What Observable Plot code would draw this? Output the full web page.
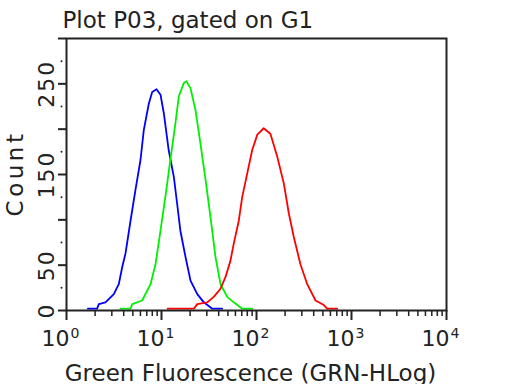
<!DOCTYPE html>
<html><head><meta charset="utf-8">
<script src="https://cdn.jsdelivr.net/npm/d3@7"></script>
<script src="https://cdn.jsdelivr.net/npm/@observablehq/plot@0.6"></script>
<style>html,body{margin:0;padding:0;background:#fff} svg{display:block}</style>
</head><body><div id="chart"></div>
<script>
const titleText = "Plot P03, gated on G1";
const xLabel = "Green Fluorescence (GRN-HLog)";
const yLabel = "Count";

const blueX = [1.68,2.10,2.19,2.57,3.15,3.55,3.86,4.18,4.72,5.32,6.01,6.51,7.35,7.98,8.86,9.76,10.6,11.9,13.5,14.6,15.8,17.9,20.2,23.8,27.9,34.2,43.5];
const blueCount = [2,2,7,9,18,29,48,63,99,133,166,199,228,241,244,238,217,177,147,118,88,59,33,18,9,2,2];

const greenX = [3.70,4.72,4.92,6.26,7.66,8.65,9.76,11.0,12.4,14.0,15.2,17.2,18.3,20.2,22.8,25.7,29.1,32.8,37.0,41.8,49.2,57.7,70.7,90.1];
const greenCount = [2,2,7,11,29,51,88,126,166,206,236,251,253,245,221,184,144,103,59,29,15,9,2,2];

const redX = [11.6,21.9,23.8,30.3,35.5,41.8,47.2,53.2,57.7,65.1,70.7,79.8,90.1,102,119,140,165,194,219,247,290,342,418,511,554,707];
const redCount = [2,2,7,9,15,24,37,55,74,99,125,151,177,194,201,195,170,140,107,81,51,29,11,6,2,2];

const seriesNames = ["S1","S2","S3"];
const seriesColors = ["#0000ff","#00f000","#ff0000"];

const xMajor = [1,10,100,1000,10000];
const xExp = ["0","1","2","3","4"];
const xMinor = [2,3,4,5,6,7,8,9,20,30,40,50,60,70,80,90,200,300,400,500,600,700,800,900,2000,3000,4000,5000,6000,7000,8000,9000];
const yMajor = [0,50,100,150,200,250,300];
const yLabels = [0,50,150,250];
const yMinor = [25,75,125,175,225,275];

const rows = [];
blueX.forEach((x,i)=>rows.push({x, count: blueCount[i], series: seriesNames[0]}));
greenX.forEach((x,i)=>rows.push({x, count: greenCount[i], series: seriesNames[1]}));
redX.forEach((x,i)=>rows.push({x, count: redCount[i], series: seriesNames[2]}));

const ink = "#222";
const chart = Plot.plot({
  width: 512, height: 384,
  marginLeft: 66, marginRight: 66, marginTop: 38, marginBottom: 74,
  style: {fontFamily: "DejaVu Sans", background: "#fff", color: ink},
  x: {type: "log", domain: [1, 10000]},
  y: {domain: [0, 300]},
  color: {type: "ordinal", domain: seriesNames, range: seriesColors},
  marks: [
    Plot.line(rows, {x: "x", y: "count", z: "series", stroke: "series", strokeWidth: 1.8}),
    Plot.frame({stroke: ink, strokeWidth: 2}),
    Plot.axisX({ticks: xMajor, tickSize: 10, tickFormat: () => "", label: null, stroke: ink, strokeWidth: 2}),
    Plot.axisX({ticks: xMinor, tickSize: 6, tickFormat: () => "", label: null, stroke: ink, strokeWidth: 1.5}),
    Plot.axisY({ticks: yMajor, tickSize: 8, tickFormat: () => "", label: null, stroke: ink, strokeWidth: 2}),
    Plot.dot(yMinor, {y: d => d, frameAnchor: "left", dx: -5, r: 1, fill: ink}),
    Plot.text(yLabels, {y: d => d, text: d => String(d), frameAnchor: "left", dx: -13, rotate: -90, textAnchor: "middle", lineAnchor: "bottom", fontSize: 22, fill: ink}),
    Plot.text(xMajor, {x: d => d, text: () => "10", frameAnchor: "bottom", dx: 3, dy: 35, textAnchor: "end", lineAnchor: "bottom", fontSize: 22, fill: ink}),
    Plot.text(xMajor.map((d,i) => ({v: d, e: xExp[i]})), {x: "v", text: "e", frameAnchor: "bottom", dx: 4, dy: 27, textAnchor: "start", lineAnchor: "bottom", fontSize: 14, fill: ink}),
    Plot.text([titleText], {text: d => d, frameAnchor: "top-left", dx: -4, dy: -11, textAnchor: "start", lineAnchor: "bottom", fontSize: 23, fill: ink}),
    Plot.text([xLabel], {text: d => d, frameAnchor: "bottom", dx: -6, dy: 70, textAnchor: "middle", lineAnchor: "bottom", fontSize: 23, fill: ink}),
    Plot.text([yLabel], {text: d => d, frameAnchor: "left", dx: -44, dy: -1, rotate: -90, textAnchor: "middle", lineAnchor: "bottom", fontSize: 23, fill: ink})
  ]
});
d3.select(chart).selectAll("text").filter(function(){ return this.textContent === yLabel; }).style("letter-spacing", "3.5px");
d3.select(chart).selectAll("text").filter(function(){ return ["0","50","150","250"].includes(this.textContent) && this.getAttribute("transform") && this.getAttribute("transform").includes("rotate"); }).style("letter-spacing", "2px");
document.getElementById("chart").append(chart);
</script>
</body></html>
